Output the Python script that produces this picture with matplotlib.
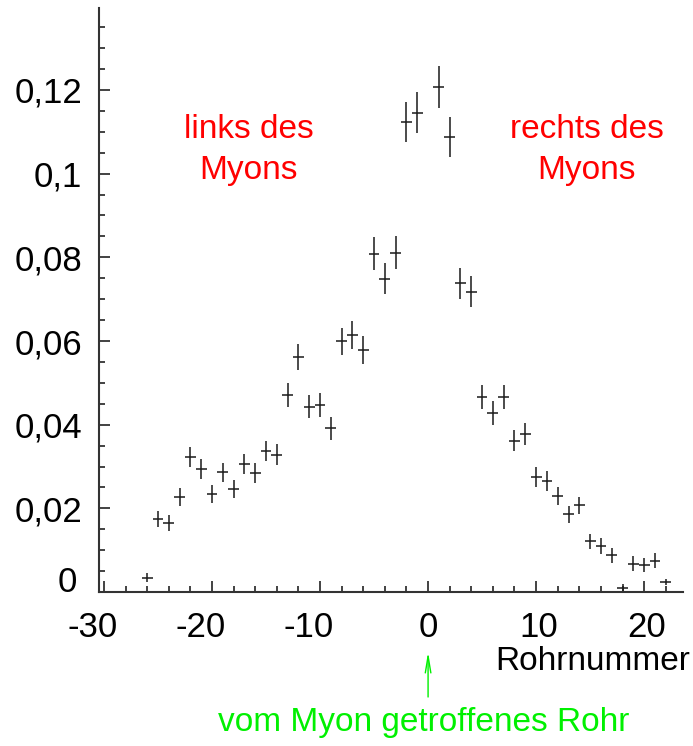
import numpy as np
import matplotlib.pyplot as plt
from matplotlib.ticker import MultipleLocator

plt.rcParams['font.family'] = ['Liberation Sans', 'DejaVu Sans']

# Rohrnummer relativ zum getroffenen Rohr (Rohr 0 selbst fehlt)
rohr = [-26, -25, -24, -23, -22, -21, -20, -19, -18, -17, -16, -15, -14,
        -13, -12, -11, -10, -9, -8, -7, -6, -5, -4, -3, -2, -1,
        1, 2, 3, 4, 5, 6, 7, 8, 9, 10, 11, 12, 13, 14, 15, 16, 17,
        18, 19, 20, 21, 22]
anteil = [0.0034, 0.0174, 0.0165, 0.0227, 0.0322, 0.0293, 0.0234, 0.0286,
          0.0246, 0.0306, 0.0284, 0.0338, 0.0328, 0.0471, 0.0562, 0.0443,
          0.0447, 0.0391, 0.0599, 0.0614, 0.0578, 0.0809, 0.0749, 0.0811,
          0.1123, 0.1146,
          0.1207, 0.1088, 0.0738, 0.0718, 0.0467, 0.0428, 0.0466, 0.0362,
          0.0378, 0.0274, 0.0266, 0.0230, 0.0186, 0.0207, 0.0121, 0.0110,
          0.0088, 0.0010, 0.0068, 0.0064, 0.0075, 0.0024]
fehler = [0.0011, 0.0019, 0.0019, 0.0021, 0.0024, 0.0024, 0.0022, 0.0023,
          0.0021, 0.0024, 0.0024, 0.0024, 0.0025, 0.0029, 0.0032, 0.0028,
          0.0028, 0.0028, 0.0033, 0.0034, 0.0033, 0.0039, 0.0037, 0.0039,
          0.0048, 0.0049,
          0.0051, 0.0048, 0.0037, 0.0037, 0.0029, 0.0029, 0.0029, 0.0026,
          0.0027, 0.0024, 0.0024, 0.0021, 0.0020, 0.0021, 0.0018, 0.0018,
          0.0018, 0.0008, 0.0018, 0.0017, 0.0018, 0.0008]

xticks = [-30, -20, -10, 0, 10, 20]
xlabels = ["-30", "-20", "-10", "0", "10", "20"]
yticks = [0.02, 0.04, 0.06, 0.08, 0.10, 0.12]
ylabels = ["0,02", "0,04", "0,06", "0,08", "0,1", "0,12"]

fs = 24
fs_tick = 25

fig = plt.figure(figsize=(6.93, 7.46), dpi=100)
ax = fig.add_axes([0.1429, 0.2064, 0.8427, 0.7829])

ax.errorbar(rohr, anteil, xerr=0.5, yerr=fehler, fmt="none",
            ecolor="#1a1a1a", elinewidth=1.1, capsize=0)

ax.set_xlim(-30.46, 23.6)
ax.set_ylim(0, 0.1396)

ax.spines["top"].set_visible(False)
ax.spines["right"].set_visible(False)
for s in ("left", "bottom"):
    ax.spines[s].set_linewidth(1.5)
    ax.spines[s].set_color("#333333")

ax.set_xticks(xticks)
ax.set_xticklabels([])
ax.set_yticks(yticks)
ax.set_yticklabels(ylabels)
ax.xaxis.set_minor_locator(MultipleLocator(2))
ax.yaxis.set_minor_locator(MultipleLocator(0.005))
ax.tick_params(which="both", direction="in", width=1.2, color="#222222",
               labelsize=fs_tick)
ax.tick_params(which="major", length=8)
ax.tick_params(which="minor", length=4.5)
ax.tick_params(axis="y", pad=12)

# x-Beschriftung: negative Zahlen sitzen etwas links vom Strich
for xt, lab in zip(xticks, xlabels):
    dx = -8 if xt < 0 else (2 if xt > 0 else 0)
    ax.annotate(lab, xy=(xt, 0), xycoords=("data", "axes fraction"),
                xytext=(dx, -14), textcoords="offset points",
                ha="center", va="top", fontsize=fs_tick)

# Null etwas oberhalb der x-Achse beschriften
ax.annotate("0", xy=(0, 0), xycoords=("axes fraction", "data"),
            xytext=(-16, 7), textcoords="offset points",
            ha="right", va="center", fontsize=fs_tick)

ax.text(-16.6, 0.1057, "links des\nMyons", color="red", fontsize=fs,
        ha="center", va="center", multialignment="center", linespacing=1.4)
ax.text(14.7, 0.1057, "rechts des\nMyons", color="red", fontsize=fs,
        ha="center", va="center", multialignment="center", linespacing=1.4)

fig.text(690 / 693, 1 - 662 / 746, "Rohrnummer", fontsize=fs,
         ha="right", va="center")

# Pfeil auf das getroffene Rohr
ax.annotate("", xy=(0, 1 - 652 / 746), xycoords=("data", "figure fraction"),
            xytext=(0, 1 - 697 / 746), textcoords=("data", "figure fraction"),
            arrowprops=dict(arrowstyle="->,head_length=1.2,head_width=0.2",
                            color="#00f000", lw=1.0, mutation_scale=10,
                            shrinkA=0, shrinkB=0))
fig.text(424 / 693, 1 - 723 / 746, "vom Myon getroffenes Rohr",
         color="#00f000", fontsize=fs, ha="center", va="center")

fig.savefig("out.png", dpi=100)
